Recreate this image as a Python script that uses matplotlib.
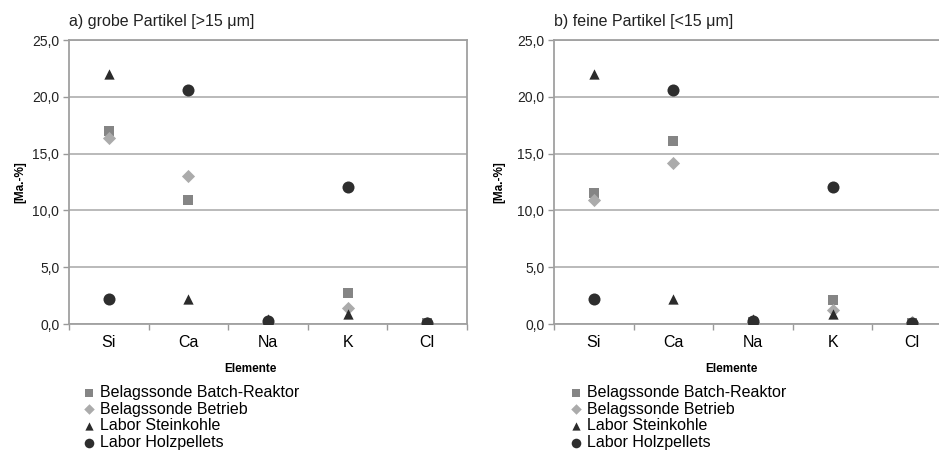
import numpy as np
import matplotlib
matplotlib.use("Agg")
import matplotlib.pyplot as plt
from matplotlib.ticker import FuncFormatter

plt.rcParams['font.family'] = ['Liberation Sans', 'DejaVu Sans']

# Daten
elemente = ["Si", "Ca", "Na", "K", "Cl"]
serien = ["Belagssonde Batch-Reaktor", "Belagssonde Betrieb", "Labor Steinkohle", "Labor Holzpellets"]

# a) grobe Partikel [>15 um]
grob_batch = [17.0, 10.9, 0.0, 2.7, 0.1]
grob_betrieb = [16.4, 13.0, 0.1, 1.4, 0.1]
grob_stein = [22.0, 2.2, 0.4, 0.9, 0.1]
grob_holz = [2.2, 20.6, 0.3, 12.1, 0.1]

# b) feine Partikel [<15 um]
fein_batch = [11.5, 16.1, 0.2, 2.1, 0.1]
fein_betrieb = [10.9, 14.2, 0.2, 1.2, 0.2]
fein_stein = [22.0, 2.2, 0.4, 0.9, 0.1]
fein_holz = [2.2, 20.6, 0.3, 12.1, 0.1]

titel = ["a) grobe Partikel [>15 \u03bcm]", "b) feine Partikel [<15 \u03bcm]"]

# Stil
marker = ['s', 'D', '^', 'o']
farben = ['#858585', '#ababab', '#2b2b2b', '#2e2e2e']
groessen = [55, 45, 55, 75]

W, H = 939, 453
fig = plt.figure(figsize=(W / 100, H / 100), dpi=100)

def px(x, y, w, h):
    return [x / W, 1 - (y + h) / H, w / W, h / H]

ax1 = fig.add_axes(px(69, 40, 398, 284))
ax2 = fig.add_axes(px(554, 40, 398, 284))

daten = [[grob_batch, grob_betrieb, grob_stein, grob_holz],
         [fein_batch, fein_betrieb, fein_stein, fein_holz]]

xpos = np.arange(len(elemente)) + 0.5
komma = FuncFormatter(lambda v, p: f"{v:.1f}".replace(".", ","))

for i, ax in enumerate([ax1, ax2]):
    for j in range(4):
        ax.scatter(xpos, daten[i][j], marker=marker[j], s=groessen[j],
                   color=farben[j], label=serien[j], zorder=3, linewidths=0)
    ax.set_xlim(0, 5)
    ax.set_ylim(0, 25)
    ax.set_yticks(np.arange(0, 26, 5))
    ax.yaxis.set_major_formatter(komma)
    ax.set_xticks(xpos)
    ax.set_xticklabels(elemente, fontsize=11.5)
    ax.set_xticks(np.arange(0, 6), minor=True)
    ax.tick_params(axis='x', which='major', length=0, pad=8)
    ax.tick_params(axis='x', which='minor', length=4, color='#999999', width=1)
    ax.tick_params(axis='y', length=4, color='#999999', width=1, labelsize=10, pad=3,
                   labelcolor='#222222')
    ax.grid(axis='y', color='#b4b4b4', linewidth=1.3, zorder=0)
    ax.set_axisbelow(True)
    for s in ax.spines.values():
        s.set_color('#a0a0a0')
        s.set_linewidth(1.3)
    ax.text(0.0, 1.04, titel[i], transform=ax.transAxes, fontsize=11.5,
            ha='left', va='bottom', color='#222222')

for x in [20, 499]:
    fig.text(x / W, 1 - 182 / H, "[Ma.-%]", fontsize=8.5, fontweight='bold',
             rotation=90, ha='center', va='center')
for x in [250, 731]:
    fig.text(x / W, 1 - 369 / H, "Elemente", fontsize=8.5, fontweight='bold',
             ha='center', va='center')

# Legenden
for i, x0 in enumerate([73 / W, 560 / W]):
    h, l = (ax1 if i == 0 else ax2).get_legend_handles_labels()
    fig.legend(h, l, loc='upper left', bbox_to_anchor=(x0, 1 - 377 / H),
               frameon=False, fontsize=11.5, handletextpad=0.2, labelspacing=0.1,
               borderpad=0, handlelength=1.0, markerscale=0.8)

fig.savefig("out.png", dpi=100)
